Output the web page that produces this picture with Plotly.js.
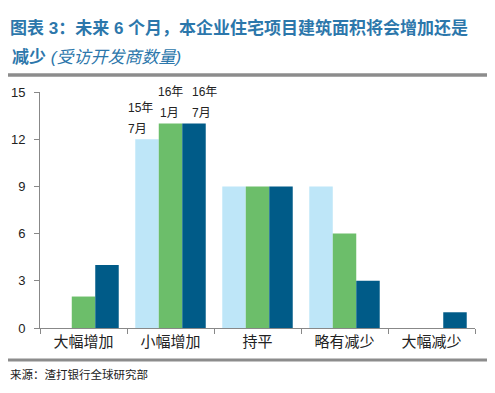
<!DOCTYPE html>
<html><head><meta charset="utf-8">
<script src="https://cdn.plot.ly/plotly-3.0.1.min.js"></script>
<style>html,body{margin:0;padding:0;background:#fff}#chart{width:495px;height:393px}</style>
</head><body><div id="chart"></div>
<script>
const categories = ['大幅增加','小幅增加','持平','略有减少','大幅减少'];
const seriesNames = ['15年7月','16年1月','16年7月'];
const labelLines = [['15年','7月'],['16年','1月'],['16年','7月']];
const jul15 = [0, 12, 9, 9, 0];
const jan16 = [2, 13, 9, 6, 0];
const jul16 = [4, 13, 9, 3, 1];
const yTicks = [0, 3, 6, 9, 12, 15];
const colors = ['#BEE6F8', '#6CBE6A', '#005B88'];
const seriesValues = [jul15, jan16, jul16];

const traces = seriesValues.map((vals, i) => ({
  type: 'bar', x: categories, y: vals, name: seriesNames[i],
  marker: {color: colors[i], line: {width: 0}}, hoverinfo: 'skip'
}));

const titleColor = '#2C77AB';
const annotations = [];
// series labels above the 小幅增加 group
const labelCat = 1;
const lineShifts = [[-30, -33], [0, -1], [34, 31]];
seriesValues.forEach((vals, i) => {
  labelLines[i].forEach((ln, j) => {
    annotations.push({
      xref: 'x', yref: 'y', x: categories[labelCat], y: vals[labelCat],
      xshift: lineShifts[i][j], yshift: 10 + (1 - j) * 21,
      text: ln, showarrow: false, yanchor: 'middle', xanchor: 'center',
      font: {family: 'Liberation Sans, Noto Sans CJK SC, sans-serif', size: 12, color: '#222'}
    });
  });
});
annotations.push({
  xref: 'paper', yref: 'paper', x: -30/435, y: 1 + (92-58)/236, xanchor: 'left', yanchor: 'middle',
  text: '<b>减少</b> <i>(受访开发商数量)</i>', showarrow: false,
  font: {family: 'Liberation Sans, Noto Sans CJK SC, sans-serif', size: 17, color: titleColor}
});
annotations.push({
  xref: 'paper', yref: 'paper', x: -32/435, y: -(374-328)/236, xanchor: 'left', yanchor: 'middle',
  text: '来源：渣打银行全球研究部', showarrow: false,
  font: {family: 'Noto Sans CJK SC, sans-serif', size: 11.5, color: '#222'}
});

const layout = {
  width: 495, height: 393,
  margin: {l: 40, r: 20, t: 92, b: 65},
  paper_bgcolor: '#fff', plot_bgcolor: '#fff',
  showlegend: false,
  barmode: 'group', bargap: 0.19, bargroupgap: 0,
  title: {
    text: '<b>图表 3：未来 6 个月，本企业住宅项目建筑面积将会增加还是</b>',
    x: 10/495, xanchor: 'left', xref: 'container',
    y: 1 - 28/393, yanchor: 'middle', yref: 'container',
    font: {family: 'Liberation Sans, Noto Sans CJK SC, sans-serif', size: 17, color: titleColor}
  },
  xaxis: {
    type: 'category', showgrid: false, showline: true, linecolor: '#888', linewidth: 1,
    ticks: 'outside', tickson: 'boundaries', ticklen: 5, tickcolor: '#888',
    tickfont: {family: 'Noto Sans CJK SC, sans-serif', size: 15, color: '#222'},
    fixedrange: true
  },
  yaxis: {
    range: [0, 15], tickvals: yTicks, ticktext: yTicks.map(String),
    showgrid: false, zeroline: false, showline: true, linecolor: '#888', linewidth: 1,
    ticks: 'outside', ticklen: 5, tickcolor: '#888', ticklabelstandoff: 6,
    tickfont: {family: 'Liberation Sans, Arial, sans-serif', size: 13, color: '#222'},
    fixedrange: true
  },
  annotations: annotations,
  shapes: [
    {type: 'line', xref: 'paper', yref: 'paper', x0: -32/435, x1: 447/435,
     y0: 1 + (92-75)/236, y1: 1 + (92-75)/236, line: {color: '#8C8C8C', width: 3.5}},
    {type: 'line', xref: 'paper', yref: 'paper', x0: -32/435, x1: 447/435,
     y0: -(360-328)/236, y1: -(360-328)/236, line: {color: '#8C8C8C', width: 3}}
  ]
};
Plotly.newPlot('chart', traces, layout, {displayModeBar: false, staticPlot: true});
</script></body></html>
